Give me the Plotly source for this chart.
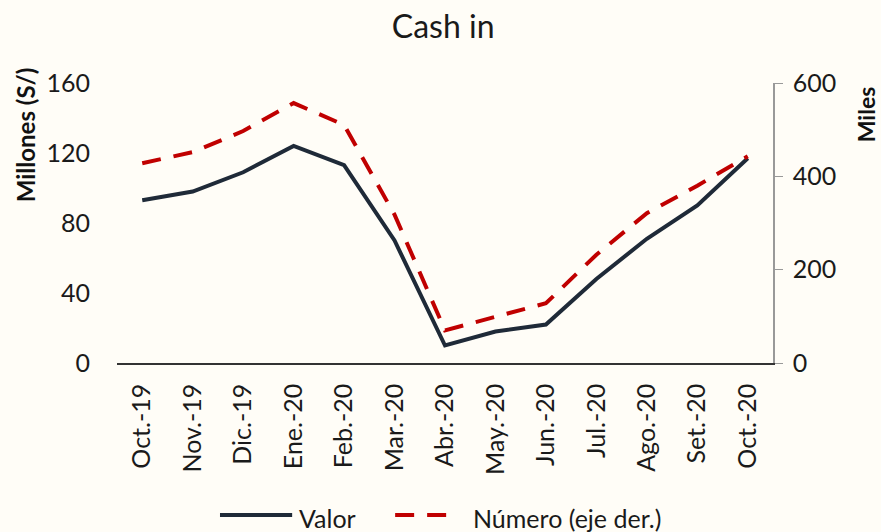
import plotly.graph_objects as go

months = ["Oct.-19", "Nov.-19", "Dic.-19", "Ene.-20", "Feb.-20", "Mar.-20", "Abr.-20",
          "May.-20", "Jun.-20", "Jul.-20", "Ago.-20", "Set.-20", "Oct.-20"]
valor = [93, 98, 109, 124, 113, 70, 10, 18, 22, 48, 71, 90, 117]
numero = [428, 452, 497, 557, 510, 318, 70, 100, 128, 232, 321, 380, 443]

left_ticks = [0, 40, 80, 120, 160]
right_ticks = [0, 200, 400, 600]

FONT = "Lato"
BG = "#FFFDF7"
NAVY = "#1F2A38"
RED = "#C00000"
DASH = "19px,13px"

fig = go.Figure()
fig.add_trace(go.Scatter(x=months, y=valor, name="Valor", mode="lines",
                         line=dict(color=NAVY, width=4), yaxis="y", showlegend=False))
fig.add_trace(go.Scatter(x=months, y=numero, name="Número (eje der.)", mode="lines",
                         line=dict(color=RED, width=4, dash=DASH), yaxis="y2",
                         showlegend=False))

legend_y = -0.553
fig.update_layout(
    width=881, height=532,
    paper_bgcolor=BG, plot_bgcolor=BG,
    margin=dict(l=117, r=108, t=83, b=169, autoexpand=False),
    font=dict(family=FONT, size=25, color="#1a1a1a"),
    title=dict(text="Cash in", x=0.503, xanchor="center", y=0.949, yanchor="middle",
               font=dict(family=FONT, size=32, color="#1a1a1a")),
    showlegend=False,
    xaxis=dict(type="category", range=[-0.5, 12.5], tickangle=-90, showgrid=False,
               showline=True, linecolor="#333333", linewidth=1.5, ticks="",
               zeroline=False, tickfont=dict(family=FONT, size=25), ticklabelstandoff=9),
    yaxis=dict(range=[0, 160], tickvals=left_ticks, showgrid=False, showline=False,
               zeroline=False, ticks="", ticklabelstandoff=26,
               tickfont=dict(family=FONT, size=25)),
    yaxis2=dict(range=[0, 600], tickvals=right_ticks, overlaying="y", side="right",
                showgrid=False, showline=True, linecolor="#999999", linewidth=1.5,
                ticks="outside", ticklen=8, tickcolor="#999999", zeroline=False,
                tickfont=dict(family=FONT, size=25), ticklabelstandoff=5),
    shapes=[
        dict(type="line", xref="paper", yref="paper", x0=0.157, x1=0.267,
             y0=legend_y + 0.01, y1=legend_y + 0.01, line=dict(color=NAVY, width=4)),
        dict(type="line", xref="paper", yref="paper", x0=0.424, x1=0.508,
             y0=legend_y + 0.01, y1=legend_y + 0.01, line=dict(color=RED, width=4, dash=DASH)),
    ],
    annotations=[
        dict(text="<b>Millones (S/)</b>", textangle=-90, xref="paper", yref="paper",
             x=-0.140, y=0.814, xanchor="center", yanchor="middle", showarrow=False,
             font=dict(family=FONT, size=24, color="#111111")),
        dict(text="<b>Miles</b>", textangle=-90, xref="paper", yref="paper",
             x=1.142, y=0.889, xanchor="center", yanchor="middle", showarrow=False,
             font=dict(family=FONT, size=23, color="#111111")),
        dict(text="Valor", xref="paper", yref="paper", x=0.274, y=legend_y,
             xanchor="left", yanchor="middle", showarrow=False,
             font=dict(family=FONT, size=25, color="#1a1a1a")),
        dict(text="Número (eje der.)", xref="paper", yref="paper", x=0.539, y=legend_y,
             xanchor="left", yanchor="middle", showarrow=False,
             font=dict(family=FONT, size=25, color="#1a1a1a")),
    ],
)

fig.write_html(
    "out.html",
    config={"displayModeBar": False},
    post_script="document.body.style.margin='0';document.body.style.background='" + BG + "';",
)
